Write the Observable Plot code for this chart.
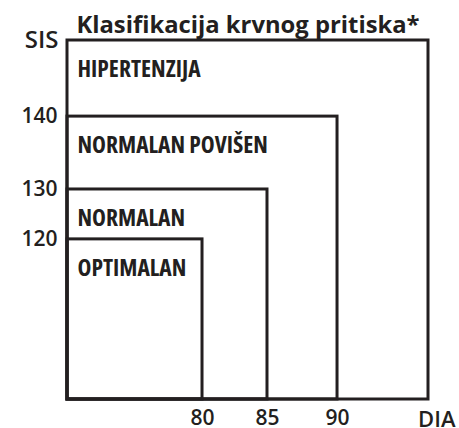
<!DOCTYPE html>
<html><head><meta charset="utf-8">
<script src="https://cdn.jsdelivr.net/npm/d3@7"></script>
<script src="https://cdn.jsdelivr.net/npm/@observablehq/plot@0.6"></script>
<style>
body{margin:0;background:#fff}
g[aria-description="kategorije"] text{font-stretch:87%}
</style>
</head><body><div id="chart"></div>
<script>
const title = "Klasifikacija krvnog pritiska*";
const categories = ["HIPERTENZIJA", "NORMALAN POVIŠEN", "NORMALAN", "OPTIMALAN"];
const diaLimits = [100, 90, 85, 80];
const sisLimits = [160, 140, 130, 120];
const xTicks = [80, 85, 90];
const yTicks = [120, 130, 140];
const xAxisLabel = "DIA";
const yAxisLabel = "SIS";
const diaMin = 60, diaMax = 100, sisMin = 90, sisMax = 160;

const rows = categories.map((c, i) => ({kategorija: c, dia: diaLimits[i], sis: sisLimits[i]}));
const ink = "#231f20";

// schematic (non-linear) axes: share of the frame at each boundary
const xWarp = d3.scaleLinear().domain([diaMin, 80, 85, 90, diaMax]).range([0, 0.374, 0.554, 0.748, 1]);
const yWarp = d3.scaleLinear().domain([sisMin, 120, 130, 140, sisMax]).range([0, 0.446, 0.585, 0.788, 1]);

const chart = Plot.plot({
  width: 459,
  height: 428,
  marginTop: 40, marginBottom: 29, marginLeft: 67, marginRight: 31,
  style: {fontFamily: "'Open Sans', sans-serif", fontSize: "21px", color: ink, background: "#fff"},
  x: {transform: xWarp, domain: [0, 1]},
  y: {transform: yWarp, domain: [0, 1]},
  marks: [
    Plot.rect(rows, {x1: diaMin, x2: "dia", y1: sisMin, y2: "sis", fill: "none", stroke: ink, strokeWidth: 3}),
    Plot.text(rows, {x: diaMin, y: "sis", text: "kategorija", dx: 10, dy: 20, textAnchor: "start", lineAnchor: "top",
      fontWeight: "bold", fontSize: 23.5, fill: ink, ariaDescription: "kategorije"}),
    Plot.axisY({ticks: yTicks.map(yWarp), tickFormat: d => String(Math.round(yWarp.invert(d))),
      tickSize: 0, tickPadding: 10, label: null, fill: ink, fontWeight: 600}),
    Plot.axisX({ticks: xTicks.map(xWarp), tickFormat: d => String(Math.round(xWarp.invert(d))), tickSize: 0, tickPadding: 11, label: null, fill: ink, fontWeight: 600}),
    Plot.text([yAxisLabel], {x: diaMin, y: sisMax, text: d => d, dx: -9, dy: 0, textAnchor: "end", fontSize: 24, fontWeight: 600, fill: ink}),
    Plot.text([xAxisLabel], {x: diaMax, y: sisMin, text: d => d, dx: 27, dy: 20, textAnchor: "end", fontSize: 22, fontWeight: 600, fill: ink}),
    Plot.text([title], {frameAnchor: "top", dy: -15, lineAnchor: "middle", fontWeight: "bold", fontSize: 23.8, fill: ink})
  ]
});
document.getElementById("chart").append(chart);
</script>
</body></html>
